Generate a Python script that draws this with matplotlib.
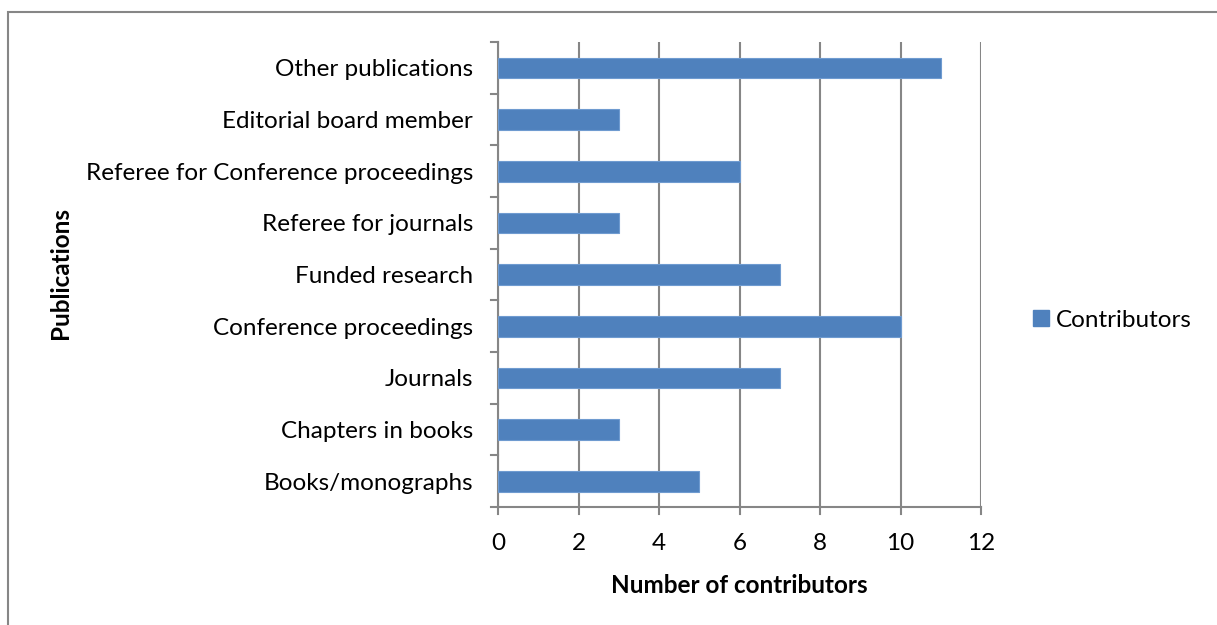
import matplotlib
matplotlib.use("Agg")
import matplotlib.pyplot as plt
from matplotlib.patches import Rectangle
from matplotlib.lines import Line2D

categories = ["Books/monographs", "Chapters in books", "Journals",
              "Conference proceedings", "Funded research", "Referee for journals",
              "Referee for Conference proceedings", "Editorial board member",
              "Other publications"]
contributors = [5, 3, 7, 10, 7, 3, 6, 3, 11]
xticks = [0, 2, 4, 6, 8, 10, 12]

plt.rcParams['font.family'] = ['Lato', 'DejaVu Sans']
bar_color = '#4F81BD'
axis_color = '#868686'
fs = 17.5

fig = plt.figure(figsize=(12.17, 6.25), dpi=100)
W, H = 1217, 625

# outer chart frame (extends beyond right/bottom edges)
fig.patches.append(Rectangle((8 / W, -0.1), 1.2, 1 - 12 / H + 0.1,
                             transform=fig.transFigure, fill=False,
                             edgecolor=axis_color, linewidth=1.5))

ax = fig.add_axes([498 / W, 1 - 507 / H, (981 - 498) / W, (507 - 42) / H])
y = range(len(categories))
ax.barh(y, contributors, height=0.4, color=bar_color, edgecolor='#6F9BD0',
        linewidth=0.8, zorder=3, label='Contributors')

ax.set_xlim(0, 12)
ax.set_ylim(-0.5, len(categories) - 0.5)
ax.set_xticks(xticks)
ax.set_xticklabels([str(v) for v in xticks], fontsize=fs)
ax.set_yticks(list(y))
ax.set_yticklabels(categories, fontsize=fs)
ax.tick_params(axis='y', length=0, pad=18)
ax.tick_params(axis='x', length=0, pad=19)

# category boundary ticks on y axis
for b in [i - 0.5 for i in range(len(categories) + 1)]:
    ax.plot([-0.17, 0], [b, b], color=axis_color, linewidth=1.5,
            clip_on=False, zorder=4)
# tick marks below x axis
for v in xticks:
    ax.plot([v, v], [-0.5, -0.63], color=axis_color, linewidth=1.5,
            clip_on=False, zorder=4)

ax.grid(axis='x', color=axis_color, linewidth=1.5, zorder=0)
for s in ['top', 'right']:
    ax.spines[s].set_visible(False)
for s in ['left', 'bottom']:
    ax.spines[s].set_color(axis_color)
    ax.spines[s].set_linewidth(1.5)

ax.set_xlabel('Number of contributors', fontsize=fs, fontweight='bold',
              labelpad=14)
fig.text(60 / W, 1 - 273 / H, 'Publications', rotation=90, fontsize=fs,
         fontweight='bold', ha='center', va='center')

handle = Line2D([], [], marker='s', linestyle='none', markersize=12,
                markerfacecolor=bar_color, markeredgecolor=bar_color)
fig.legend([handle], ['Contributors'], loc='center left',
           bbox_to_anchor=(1024 / W, 1 - 320 / H), frameon=False,
           fontsize=fs, handletextpad=-0.1, handlelength=1.4,
           borderaxespad=0, borderpad=0)

fig.savefig('out.png', dpi=100)
